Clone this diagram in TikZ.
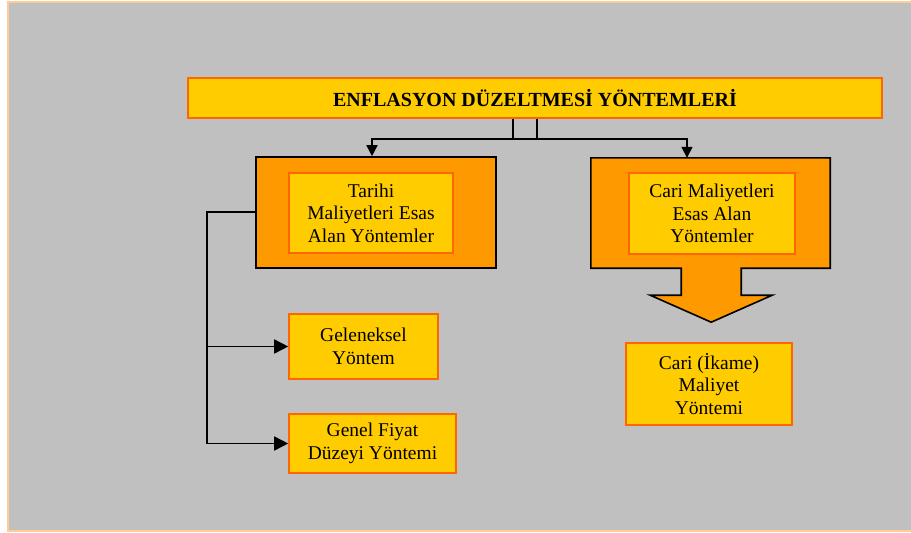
\documentclass[tikz,border=0pt]{standalone}
\usepackage{fontspec}
\setmainfont{Liberation Serif}
\usetikzlibrary{positioning,arrows.meta}

\definecolor{gold}{HTML}{FFCC00}
\definecolor{deeporange}{HTML}{FF9900}
\definecolor{redorange}{HTML}{FF6600}
\definecolor{paleorange}{HTML}{FFCC99}
\definecolor{panelgrey}{HTML}{C0C0C0}

\tikzset{
  goldbox/.style={draw=redorange, line width=1.6pt, fill=gold, align=center,
    inner sep=0pt, font=\fontsize{19.5}{22.5}\selectfont},
  outerbox/.style={draw=black, line width=1.6pt, fill=deeporange, inner sep=0pt},
  wire/.style={draw=black, line width=1.6pt},
  wirearrow/.style={wire, -{Triangle[length=14pt,width=14pt]}},
  smallarrow/.style={wire, -{Triangle[length=11pt,width=11pt]}}
}

\begin{document}
\begin{tikzpicture}[x=1pt,y=-1pt]
    \useasboundingbox (0,0) rectangle (911,533);
    % panel
    \draw [paleorange, line width=2pt, fill=panelgrey] (8,2) rectangle (930,531);
    % title
    \node [goldbox, minimum width=694, minimum height=40, font=\fontsize{20}{22.5}\selectfont\bfseries] (title) at (535,98) {ENFLASYON DÜZELTMESİ YÖNTEMLERİ};
    % left group
    \node [outerbox, minimum width=240, minimum height=111] (tarihiOut) at (376,212.5) {};
    \node [goldbox, minimum width=164, minimum height=80] (tarihiIn) at (371,213) {Tarihi\\Maliyetleri Esas\\Alan Yöntemler};
    \node [goldbox, minimum width=149, minimum height=65] (gelen) at (363.5,346.5) {Geleneksel\\Yöntem};
    \node [goldbox, minimum width=167, minimum height=59] (genel) at (372.5,443.5) {Genel Fiyat\\Düzeyi Yöntemi};
    % right group
    \node [minimum width=239, minimum height=110, inner sep=0pt] (cariOut) at (710.5,213) {};
    \draw [outerbox] (cariOut.north west) -- (cariOut.north east) -- (cariOut.south east)
        -- ++(-89,0) -- ++(0,27) -- ++(31,0) -- ++(-61,27) -- ++(-61,-27) -- ++(31,0)
        -- ++(0,-27) -- (cariOut.south west) -- cycle;
    \node [goldbox, minimum width=166, minimum height=81] (cariIn) at (712,213.5) {Cari Maliyetleri\\Esas Alan\\Yöntemler};
    \node [goldbox, minimum width=166, minimum height=82] (ikame) at (709,384) {Cari (İkame)\\Maliyet\\Yöntemi};
    % fork under the title
    \coordinate (forkL) at (513,139);
    \coordinate (forkR) at (537,139);
    \draw [wire] (title.south -| forkL) -- (forkL);
    \draw [wire] (title.south -| forkR) -- (forkR);
    \draw [wire] (forkL) -- (forkR);
    \draw [smallarrow] (forkL) -- (372,139) -- (tarihiOut.north -| 372,0);
    \draw [smallarrow] (forkR) -- (687,139) -- (cariOut.north -| 687,0);
    % left spine
    \coordinate (spine) at (207,212);
    \draw [wire] (tarihiOut.west |- spine) -- (spine) -- (spine |- genel.west);
    \draw [wirearrow] (spine |- gelen.west) -- (gelen.west);
    \draw [wirearrow] (spine |- genel.west) -- (genel.west);
\end{tikzpicture}
\end{document}
